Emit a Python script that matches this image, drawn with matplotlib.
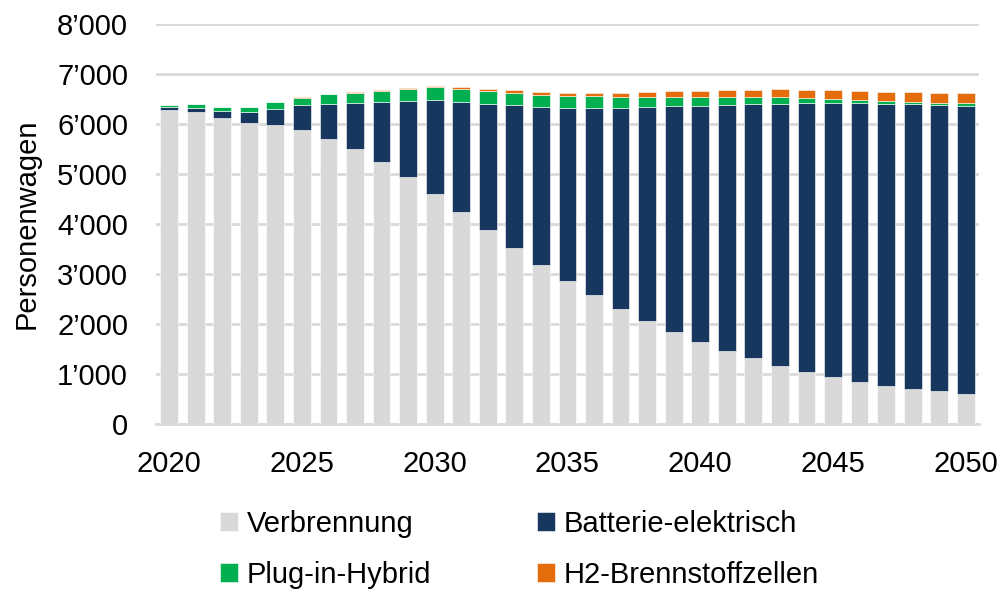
import matplotlib
matplotlib.use('Agg')
import matplotlib.pyplot as plt
from matplotlib.ticker import FuncFormatter
import numpy as np

plt.rcParams['font.family'] = ['Liberation Sans', 'DejaVu Sans']

years = list(range(2020, 2051))
verbrennung = [6280, 6233, 6127, 6027, 5973, 5880, 5707, 5493, 5240, 4940,
               4607, 4240, 3873, 3513, 3173, 2853, 2573, 2300, 2060, 1840,
               1640, 1467, 1313, 1167, 1040, 940, 845, 765, 700, 650, 600]
batterie = [60, 94, 140, 220, 334, 507, 700, 934, 1207, 1527,
            1873, 2200, 2534, 2860, 3174, 3467, 3740, 4020, 4287, 4513,
            4727, 4920, 5094, 5240, 5387, 5487, 5568, 5642, 5693, 5737, 5767]
plugin = [45, 73, 80, 93, 128, 138, 183, 201, 218, 233,
          253, 260, 253, 254, 240, 233, 240, 220, 193, 194,
          180, 160, 140, 126, 100, 80, 74, 53, 47, 40, 53]
h2 = [0, 0, 0, 2, 5, 8, 10, 12, 15, 20,
      27, 33, 40, 53, 53, 60, 60, 80, 100, 106,
      120, 133, 140, 160, 160, 173, 180, 187, 193, 200, 200]

series = [('Verbrennung', verbrennung, '#D9D9D9'),
          ('Batterie-elektrisch', batterie, '#17375E'),
          ('Plug-in-Hybrid', plugin, '#00B050'),
          ('H2-Brennstoffzellen', h2, '#E46C0A')]

fs = 21
fig = plt.figure(figsize=(9.99, 5.9), dpi=100)
ax = fig.add_axes([0.156, 0.2814, 0.824, 0.678])

bottom = np.zeros(len(years))
bars = {}
for name, vals, col in series:
    bars[name] = ax.bar(years, vals, width=0.67, bottom=bottom, color=col, label=name,
                        edgecolor='white', linewidth=0.4, zorder=3)
    bottom += np.array(vals)

ax.set_xlim(2019.5, 2050.5)
ax.set_ylim(0, 8000)
ax.set_yticks(range(0, 8001, 1000))
ax.yaxis.set_major_formatter(FuncFormatter(
    lambda v, p: '0' if v == 0 else '{:,.0f}'.format(v).replace(',', '\u2019')))
ax.set_xticks(range(2020, 2051, 5))
ax.grid(axis='y', color='#D9D9D9', linewidth=2, zorder=0)
for s in ['top', 'right', 'left']:
    ax.spines[s].set_visible(False)
ax.spines['bottom'].set_color('#D9D9D9')
ax.spines['bottom'].set_linewidth(2)
ax.tick_params(axis='both', length=0, labelsize=fs)
ax.tick_params(axis='x', pad=19)
ax.tick_params(axis='y', pad=20)
ax.set_ylabel('Personenwagen', fontsize=fs, labelpad=12)

# row-wise legend order
order = ['Verbrennung', 'Plug-in-Hybrid', 'Batterie-elektrisch', 'H2-Brennstoffzellen']
leg = fig.legend([bars[n] for n in order], order, loc='center',
                 bbox_to_anchor=(0.520, 0.069), ncol=2,
                 frameon=False, fontsize=fs, handlelength=0.62, handleheight=0.62,
                 handletextpad=0.3, columnspacing=3.6, labelspacing=0.8,
                 borderpad=0)

fig.savefig('out.png', dpi=100)
